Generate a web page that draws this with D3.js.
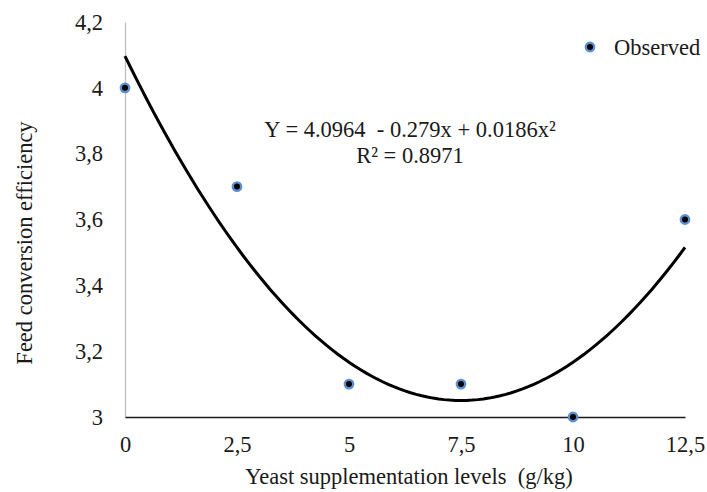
<!DOCTYPE html>
<html>
<head>
<meta charset="utf-8">
<script src="https://cdn.jsdelivr.net/npm/d3@7"></script>
<style>
  html, body { margin: 0; padding: 0; background: #fff; }
  svg { display: block; }
  text { font-family: "Liberation Serif", "Times New Roman", serif; fill: #1a1a1a; white-space: pre; }
</style>
</head>
<body>
<svg id="chart" width="707" height="492"></svg>
<script>
// ---- data ----
const levels = [0, 2.5, 5, 7.5, 10, 12.5];
const observed = [4.0, 3.7, 3.1, 3.1, 3.0, 3.6];
const trendCoefs = [4.0964, -0.279, 0.0186];   // Y = a + b x + c x^2
const xTicks = [0, 2.5, 5, 7.5, 10, 12.5];
const yTicks = [3, 3.2, 3.4, 3.6, 3.8, 4, 4.2];
const eqLine1 = "Y = 4.0964  - 0.279x + 0.0186x\u00B2";
const eqLine2 = "R\u00B2 = 0.8971";
const xTitle = "Yeast supplementation levels  (g/kg)";
const yTitle = "Feed conversion efficiency";
const legendLabel = "Observed";

const fmt = v => String(v).replace(".", ",");
const FS = 22.5;

const svg = d3.select("#chart");
const x = d3.scaleLinear().domain([0, 12.5]).range([125, 685]);
const y = d3.scaleLinear().domain([3, 4.2]).range([417, 22]);

// y axis (grey line)
const yAxis = svg.append("g").attr("transform", `translate(${x(0)},0)`)
  .call(d3.axisLeft(y).tickValues(yTicks).tickSize(0).tickPadding(22).tickFormat(fmt));
yAxis.select(".domain").attr("stroke", "#bfbfbf").attr("stroke-width", 1.3);
yAxis.selectAll("text").style("font-size", FS + "px").style("font-family", "Liberation Serif").attr("fill", "#1a1a1a");

// x axis (dark line)
const xAxis = svg.append("g").attr("transform", `translate(0,${y(3)})`)
  .call(d3.axisBottom(x).tickValues(xTicks).tickSize(0).tickPadding(19).tickFormat(fmt));
xAxis.select(".domain").attr("stroke", "#1a1a1a").attr("stroke-width", 1.6);
xAxis.selectAll("text").style("font-size", FS + "px").style("font-family", "Liberation Serif").attr("fill", "#1a1a1a");

// trend curve from the chart's stated equation
const trend = xv => trendCoefs[0] + trendCoefs[1] * xv + trendCoefs[2] * xv * xv;
const xs = d3.range(0, 12.5001, 0.125);
svg.append("path")
  .datum(xs)
  .attr("fill", "none")
  .attr("stroke", "#000")
  .attr("stroke-width", 3)
  .attr("d", d3.line().x(d => x(d)).y(d => y(trend(d))));

// observed points
svg.append("g").selectAll("circle")
  .data(levels.map((l, i) => ({ l, v: observed[i] })))
  .join("circle")
  .attr("cx", d => x(d.l))
  .attr("cy", d => y(d.v))
  .attr("r", 4.2)
  .attr("fill", "#000")
  .attr("stroke", "#5b8fd0")
  .attr("stroke-width", 2.4);

// equation text
svg.append("text").attr("x", 410).attr("y", 137).attr("text-anchor", "middle")
  .style("font-size", FS + "px").text(eqLine1);
svg.append("text").attr("x", 410).attr("y", 163).attr("text-anchor", "middle")
  .style("font-size", FS + "px").text(eqLine2);

// axis titles
svg.append("text").attr("x", 409).attr("y", 484).attr("text-anchor", "middle")
  .style("font-size", FS + "px").text(xTitle);
svg.append("text").attr("transform", "translate(32,243) rotate(-90)").attr("text-anchor", "middle")
  .style("font-size", FS + "px").text(yTitle);

// legend
svg.append("circle").attr("cx", 590).attr("cy", 47).attr("r", 4.2)
  .attr("fill", "#000").attr("stroke", "#5b8fd0").attr("stroke-width", 2.4);
svg.append("text").attr("x", 614).attr("y", 55).style("font-size", FS + "px").text(legendLabel);
</script>
</body>
</html>
